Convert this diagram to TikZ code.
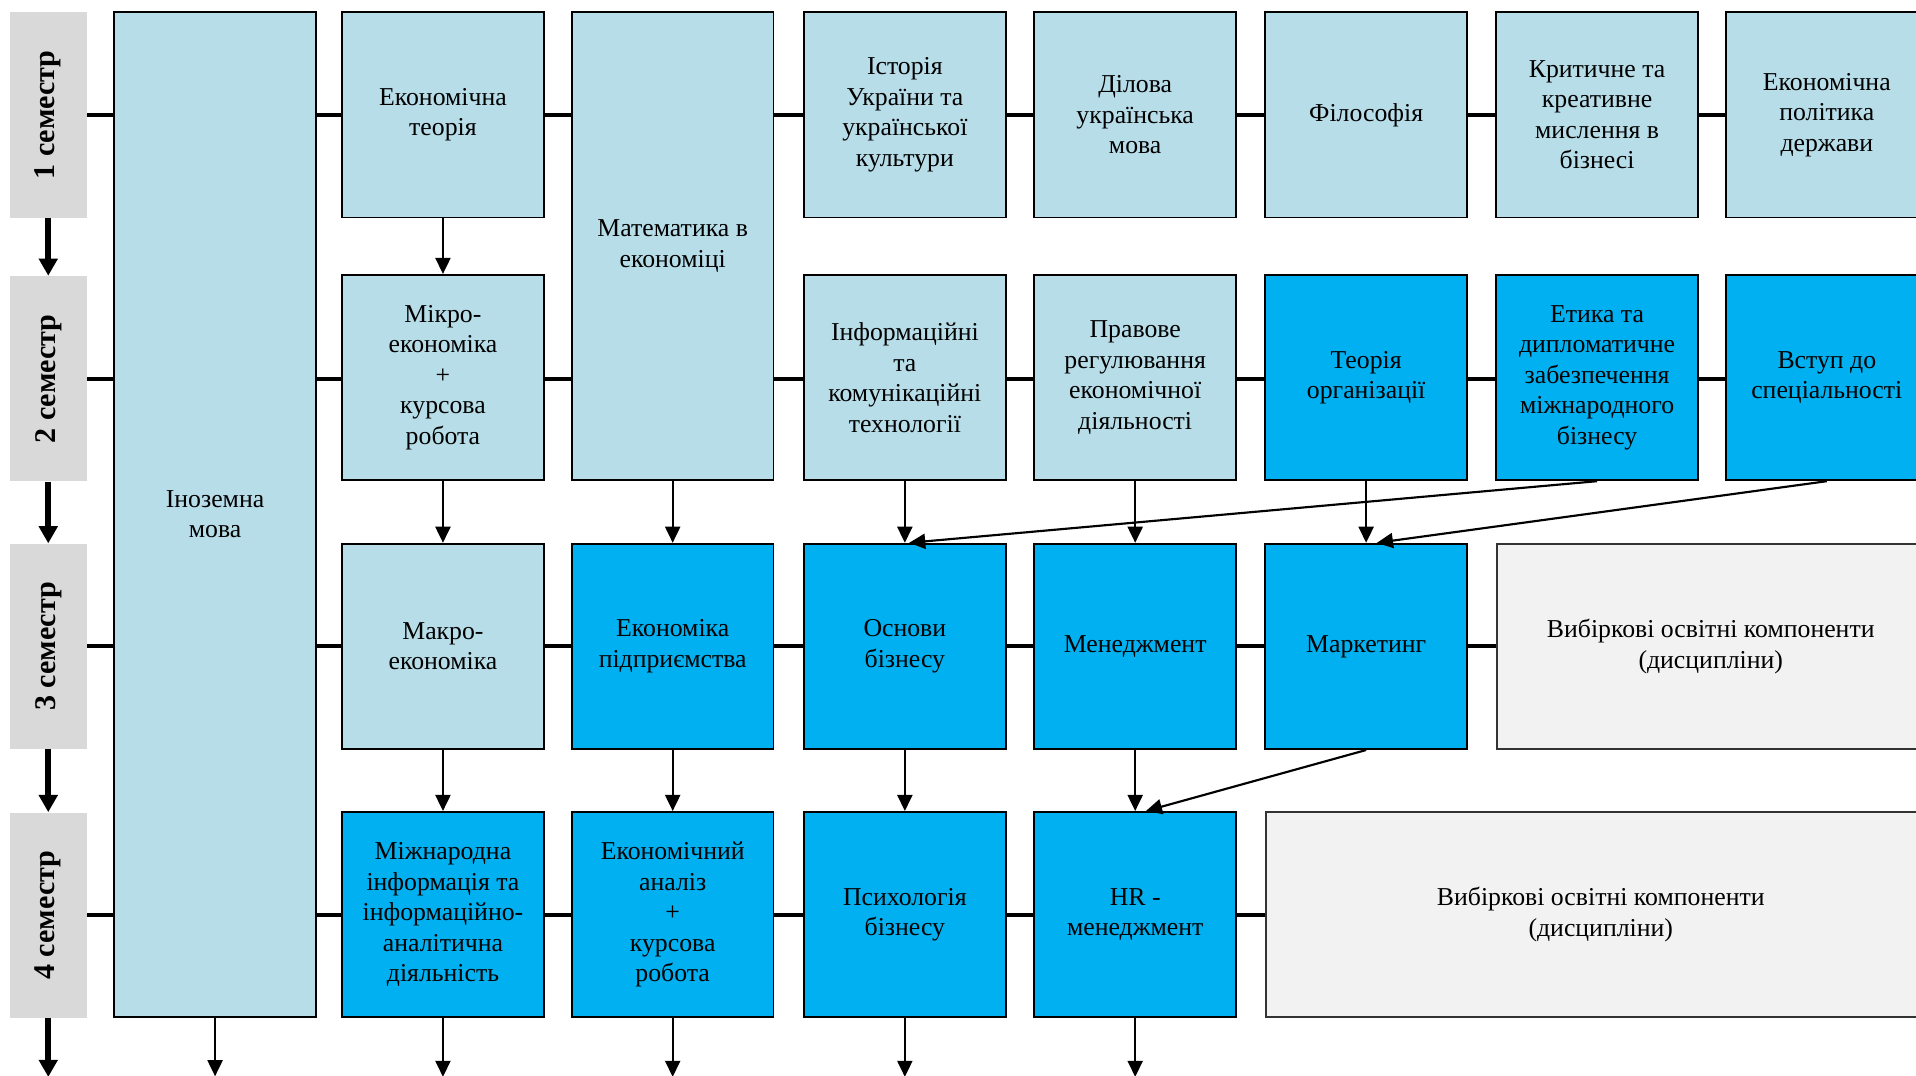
\documentclass[tikz,border=0pt]{standalone}
\usepackage{fontspec}
\setmainfont{Liberation Serif}
\definecolor{courselight}{RGB}{183, 221, 232}
\definecolor{coreblue}{RGB}{0, 176, 240}
\definecolor{electgrey}{RGB}{242, 242, 242}
\definecolor{semgrey}{RGB}{217, 217, 217}
\usetikzlibrary{arrows.meta, calc}
\pgfdeclarelayer{background}
\pgfsetlayers{background,main}

\begin{document}
\begin{tikzpicture}[
  course/.style={draw, line width=0.9pt, fill=courselight, minimum width=3.3cm,
                 minimum height=3.36cm, inner sep=2pt, align=center,
                 font=\fontsize{12}{14.2}\selectfont},
  core/.style={course, fill=coreblue},
  elective/.style={course, fill=electgrey, draw=black!80},
  semlabel/.style={fill=semgrey, minimum width=1.26cm, minimum height=3.36cm,
                   inner sep=0pt, font=\fontsize{14}{16}\selectfont\bfseries},
  link/.style={-{Triangle[length=7.5pt, width=7pt]}, line width=1pt},
  semarrow/.style={-{Triangle[length=8pt, width=8.5pt]}, line width=2.8pt},
  rowline/.style={line width=1.9pt},
]
\clip (0, 0) rectangle (31.36, 17.6);

% Semesters
\node[semlabel] (sem1) at (0.79, 15.72) {\rotatebox{90}{1 семестр}};
\node[semlabel] (sem2) at (0.79, 11.40) {\rotatebox{90}{2 семестр}};
\node[semlabel] (sem3) at (0.79, 7.02) {\rotatebox{90}{3 семестр}};
\node[semlabel] (sem4) at (0.79, 2.62) {\rotatebox{90}{4 семестр}};

\draw[semarrow] (sem1.south) -- (sem2.north);
\draw[semarrow] (sem2.south) -- (sem3.north);
\draw[semarrow] (sem3.south) -- (sem4.north);
\draw[semarrow] (sem4.south) -- ++(0, -0.96);

% Language through all semesters
\node[course, minimum height=16.44cm] (inoz) at (3.52, 9.18) {Іноземна\\мова};

% 1 semester
\node[course] (ekteor) at (7.25, 15.72) {Економічна\\теорія};
\node[course, minimum height=7.66cm] (matem) at (11.01, 13.57) {Математика в\\економіці};
\node[course] (istoriia) at (14.81, 15.72) {Історія\\України та\\української\\культури};
\node[course] (dilova) at (18.58, 15.72) {Ділова\\українська\\мова};
\node[course] (filos) at (22.36, 15.72) {Філософія};
\node[course] (krytych) at (26.14, 15.72) {Критичне та\\креативне\\мислення в\\бізнесі};
\node[course] (ekpol) at (29.9, 15.72) {Економічна\\політика\\держави};

% 2 semester
\node[course] (mikro) at (7.25, 11.42) {Мікро-\\економіка\\+\\курсова\\робота};
\node[course] (inform) at (14.81, 11.42) {Інформаційні\\та\\комунікаційні\\технології};
\node[course] (pravove) at (18.58, 11.42) {Правове\\регулювання\\економічної\\діяльності};
\node[core] (teororg) at (22.36, 11.42) {Теорія\\організації};
\node[core] (etyka) at (26.14, 11.42) {Етика та\\дипломатичне\\забезпечення\\міжнародного\\бізнесу};
\node[core] (vstup) at (29.9, 11.42) {Вступ до\\спеціальності};

% 3 semester
\node[course] (makro) at (7.25, 7.02) {Макро-\\економіка};
\node[core] (ekpidp) at (11.01, 7.02) {Економіка\\підприємства};
\node[core] (osnovy) at (14.81, 7.02) {Основи\\бізнесу};
\node[core] (menedzh) at (18.58, 7.02) {Менеджмент};
\node[core] (market) at (22.36, 7.02) {Маркетинг};
\node[elective, minimum width=7cm] (vybir3) at (28.0, 7.02) {Вибіркові освітні компоненти\\(дисципліни)};

% 4 semester
\node[core] (mizhnar) at (7.25, 2.63) {Міжнародна\\інформація та\\інформаційно-\\аналітична\\діяльність};
\node[core] (ekanaliz) at (11.01, 2.63) {Економічний\\аналіз\\+\\курсова\\робота};
\node[core] (psyho) at (14.81, 2.63) {Психологія\\бізнесу};
\node[core] (hr) at (18.58, 2.63) {HR -\\менеджмент};
\node[elective, minimum width=10.96cm] (vybir4) at (26.2, 2.63) {Вибіркові освітні компоненти\\(дисципліни)};

% Semester rows
\begin{pgfonlayer}{background}
\foreach \s/\e in {sem1/ekpol, sem2/vstup, sem3/vybir3, sem4/vybir4}
  \draw[rowline] (\s.east) -- (\s.east -| \e.west);
\end{pgfonlayer}

% Prerequisites
\draw[link] (ekteor.south) -- (mikro.north);
\draw[link] (mikro.south) -- (makro.north);
\draw[link] (matem.south) -- (ekpidp.north);
\draw[link] (inform.south) -- (osnovy.north);
\draw[link] (etyka.south) -- ([xshift=2pt]osnovy.north);
\draw[link] (pravove.south) -- (menedzh.north);
\draw[link] (teororg.south) -- (market.north);
\draw[link] (vstup.south) -- ([xshift=5pt]market.north);
\draw[link] (makro.south) -- (mizhnar.north);
\draw[link] (ekpidp.south) -- (ekanaliz.north);
\draw[link] (osnovy.south) -- (psyho.north);
\draw[link] (menedzh.south) -- (hr.north);
\draw[link] (market.south) -- ([xshift=5pt]hr.north);

% Further semesters
\foreach \n in {inoz, mizhnar, ekanaliz, psyho, hr}
  \draw[link] (\n.south) -- ++(0, -0.96);
\end{tikzpicture}
\end{document}
